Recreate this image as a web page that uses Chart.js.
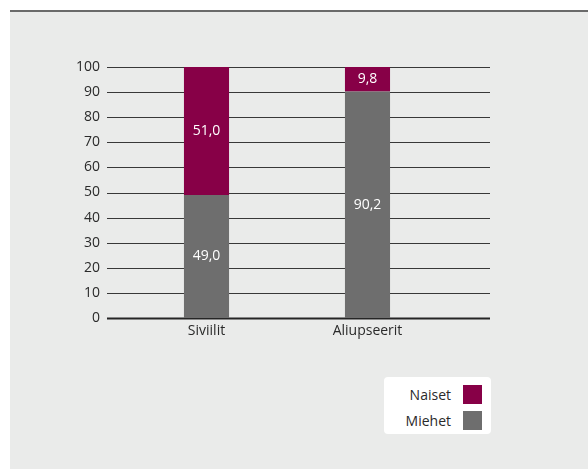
<!DOCTYPE html>
<html>
<head>
<meta charset="utf-8">
<script src="https://cdn.jsdelivr.net/npm/chart.js@4/dist/chart.umd.min.js"></script>
<style>
  html, body { margin: 0; padding: 0; background: #fff; }
  body { width: 588px; height: 469px; position: relative; overflow: hidden; font-family: "Open Sans", "Noto Sans", sans-serif; }
  .panel { position: absolute; left: 10px; top: 10px; width: 578px; height: 459px; background: #eaebea; border-top: 2px solid #6a6a6a; box-sizing: border-box; }
  #chart { position: absolute; left: 0; top: 0; }
  .legend { position: absolute; left: 384px; top: 377px; width: 107px; height: 57px; background: #fff; border-radius: 4px; box-sizing: border-box; padding: 4px 9px 0 0; }
  .legend .item { display: flex; justify-content: flex-end; align-items: center; height: 26px; font-size: 14px; color: #2a2a2a; }
  .legend .swatch { width: 19px; height: 19px; margin-left: 12px; }
</style>
</head>
<body>
<div class="panel"></div>
<canvas id="chart" width="588" height="469"></canvas>
<div class="legend" id="legend"></div>
<script>
const categories = ['Siviilit', 'Aliupseerit'];
const miehet = [49.0, 90.2];
const naiset = [51.0, 9.8];
const yTicks = [0, 10, 20, 30, 40, 50, 60, 70, 80, 90, 100];

const magenta = '#870047';
const grey = '#6e6e6e';
const font = {family: '"Open Sans", "Noto Sans", sans-serif', size: 14};

// horizontal rules run wider than the bar area
const gridLines = {
    id: 'gridLines',
    beforeDatasetsDraw(chart) {
        const {ctx, chartArea, scales} = chart;
        const x0 = chartArea.left - 19;
        const x1 = chartArea.right + 42;
        ctx.save();
        yTicks.forEach(v => {
            const y = Math.round(scales.y.getPixelForValue(v)) + 0.5;
            ctx.beginPath();
            ctx.lineWidth = v === 0 ? 2 : 1.2;
            ctx.strokeStyle = v === 0 ? '#252525' : '#383838';
            ctx.moveTo(x0, y);
            ctx.lineTo(x1, y);
            ctx.stroke();
        });
        ctx.restore();
    }
};

// value text in the middle of each segment
const segmentLabels = {
    id: 'segmentLabels',
    afterDatasetsDraw(chart) {
        const {ctx} = chart;
        ctx.save();
        ctx.fillStyle = '#fff';
        ctx.font = '14px "Open Sans", "Noto Sans", sans-serif';
        ctx.textAlign = 'center';
        ctx.textBaseline = 'middle';
        chart.data.datasets.forEach((ds, i) => {
            chart.getDatasetMeta(i).data.forEach((bar, j) => {
                const mid = (bar.y + bar.base) / 2;
                ctx.fillText(ds.data[j].toFixed(1).replace('.', ','), bar.x, mid);
            });
        });
        ctx.restore();
    }
};

const chart = new Chart(document.getElementById('chart'), {
    type: 'bar',
    data: {
        labels: categories,
        datasets: [
            {label: 'Miehet', data: miehet, backgroundColor: grey},
            {label: 'Naiset', data: naiset, backgroundColor: magenta}
        ]
    },
    options: {
        responsive: false,
        animation: false,
        layout: {padding: {left: 0, right: 140, top: 67, bottom: 0}},
        datasets: {bar: {barPercentage: 0.28, categoryPercentage: 1}},
        plugins: {legend: {display: false}, tooltip: {enabled: false}},
        scales: {
            x: {
                stacked: true,
                afterFit(axis) { axis.height = 151; },
                grid: {display: false, drawTicks: false},
                border: {display: false},
                ticks: {color: '#2a2a2a', font: font, padding: 5}
            },
            y: {
                stacked: true,
                min: 0,
                max: 100,
                afterFit(axis) { axis.width = 126; },
                afterBuildTicks(axis) { axis.ticks = yTicks.map(v => ({value: v})); },
                grid: {display: false, drawTicks: false},
                border: {display: false},
                ticks: {color: '#2a2a2a', font: font, padding: 26}
            }
        }
    },
    plugins: [gridLines, segmentLabels]
});

// legend: top series first, text left of the swatch
const legend = document.getElementById('legend');
chart.data.datasets.slice().reverse().forEach(ds => {
    const item = document.createElement('div');
    item.className = 'item';
    item.innerHTML = '<span>' + ds.label + '</span><span class="swatch" style="background:' + ds.backgroundColor + '"></span>';
    legend.appendChild(item);
});
</script>
</body>
</html>
